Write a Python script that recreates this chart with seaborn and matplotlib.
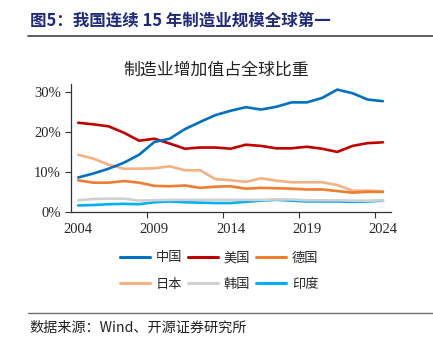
import matplotlib
matplotlib.use("Agg")
import matplotlib.pyplot as plt
import seaborn as sns
import pandas as pd
from matplotlib.lines import Line2D

years = list(range(2004, 2025))
china   = [8.6, 9.6, 10.8, 12.3, 14.3, 17.5, 18.3, 20.7, 22.5, 24.2, 25.3, 26.2, 25.6, 26.3, 27.4, 27.4, 28.5, 30.6, 29.7, 28.1, 27.7]
usa     = [22.3, 21.9, 21.4, 19.8, 17.8, 18.3, 17.1, 15.8, 16.1, 16.1, 15.8, 16.8, 16.5, 15.9, 15.9, 16.3, 15.8, 15.0, 16.5, 17.2, 17.4]
germany = [7.9, 7.3, 7.3, 7.7, 7.3, 6.5, 6.4, 6.6, 6.0, 6.3, 6.4, 5.8, 6.0, 5.9, 5.8, 5.6, 5.6, 5.2, 4.8, 5.0, 5.0]
japan   = [14.3, 13.3, 11.8, 10.8, 10.8, 10.9, 11.4, 10.4, 10.4, 8.2, 7.9, 7.5, 8.4, 7.8, 7.4, 7.4, 7.4, 6.7, 5.3, 5.3, 5.1]
korea   = [2.9, 3.2, 3.3, 3.3, 2.8, 2.9, 3.0, 3.0, 3.0, 3.0, 3.0, 3.0, 3.0, 3.1, 3.1, 2.9, 2.9, 2.9, 2.8, 2.8, 2.9]
india   = [1.6, 1.7, 1.9, 2.0, 1.9, 2.4, 2.6, 2.4, 2.3, 2.2, 2.2, 2.5, 2.8, 3.0, 2.8, 2.6, 2.6, 2.6, 2.5, 2.6, 2.8]

names = ["中国", "美国", "德国", "日本", "韩国", "印度"]
series = [china, usa, germany, japan, korea, india]
colors = ["#0070C0", "#C00000", "#ED7D31", "#F4B183", "#D0D0D0", "#00B0F0"]
x_labels = ["2004", "2009", "2014", "2019", "2024"]
y_labels = ["0%", "10%", "20%", "30%"]

rows = []
for n, s in zip(names, series):
    for y, v in zip(years, s):
        rows.append({"year": y, "value": v, "country": n})
df = pd.DataFrame(rows)

sns.set_theme(style="ticks")
plt.rcParams["font.family"] = ["Noto Sans CJK SC", "DejaVu Sans"]

fig = plt.figure(figsize=(4.33, 3.45), dpi=100)
ax = fig.add_axes([0.163, 0.386, 0.739, 0.3705])

pal = dict(zip(names, colors))
sns.lineplot(data=df, x="year", y="value", hue="country", hue_order=names,
             palette=pal, linewidth=1.9, legend=False, ax=ax)
for line, n in zip(ax.get_lines(), names):
    line.set_zorder(10 - names.index(n))

ax.set_xlim(2003.5, 2024.5)
ax.set_ylim(0, 32)
ax.set_xlabel("")
ax.set_ylabel("")
ax.set_xticks([2004, 2009, 2014, 2019, 2024])
ax.set_xticklabels(x_labels, fontfamily="Liberation Serif", fontsize=10.5)
ax.set_xticks([2008.5, 2013.5, 2018.5, 2023.5], minor=True)
ax.tick_params(axis="x", which="major", length=0, pad=8)
ax.tick_params(axis="x", which="minor", length=4, width=0.8, color="#333333", direction="out")
ax.set_yticks([0, 10, 20, 30])
ax.set_yticklabels(y_labels, fontfamily="Liberation Serif", fontsize=10.5)
ax.tick_params(axis="y", length=4, width=0.8, color="#333333", pad=3)
for sp in ["top", "right"]:
    ax.spines[sp].set_visible(False)
for sp in ["left", "bottom"]:
    ax.spines[sp].set_color("#333333")
    ax.spines[sp].set_linewidth(0.9)

fig.text(0.5, 0.797, "制造业增加值占全球比重", ha="center", va="center", fontsize=12.2, color="#222222")

# header
fig.text(0.069, 0.939, "图5：我国连续 15 年制造业规模全球第一", ha="left", va="center",
         fontsize=11.9, fontweight="bold", color="#1F2A7A")
fig.add_artist(Line2D([0.065, 1.0], [1 - 35.7/345]*2, color="#404040", linewidth=1.2, transform=fig.transFigure))
fig.add_artist(Line2D([0.065, 1.0], [1 - 313.3/345]*2, color="#707070", linewidth=1.0, transform=fig.transFigure))
fig.text(0.069, 1 - 327.5/345, "数据来源：Wind、开源证券研究所", ha="left", va="center",
         fontsize=10.2, color="#222222")

# legend filled row-wise: matplotlib fills column-wise, so interleave
idx = [0, 3, 1, 4, 2, 5]
handles = [Line2D([0], [0], color=colors[i], linewidth=2.2) for i in idx]
labels = [names[i] for i in idx]
fig.legend(handles, labels, loc="center", bbox_to_anchor=(0.506, 0.2145), ncol=3,
           frameon=False, fontsize=9.5, handlelength=2.3, handletextpad=0.4,
           columnspacing=0.45, labelspacing=1.0)

fig.savefig("out.png", dpi=100)
